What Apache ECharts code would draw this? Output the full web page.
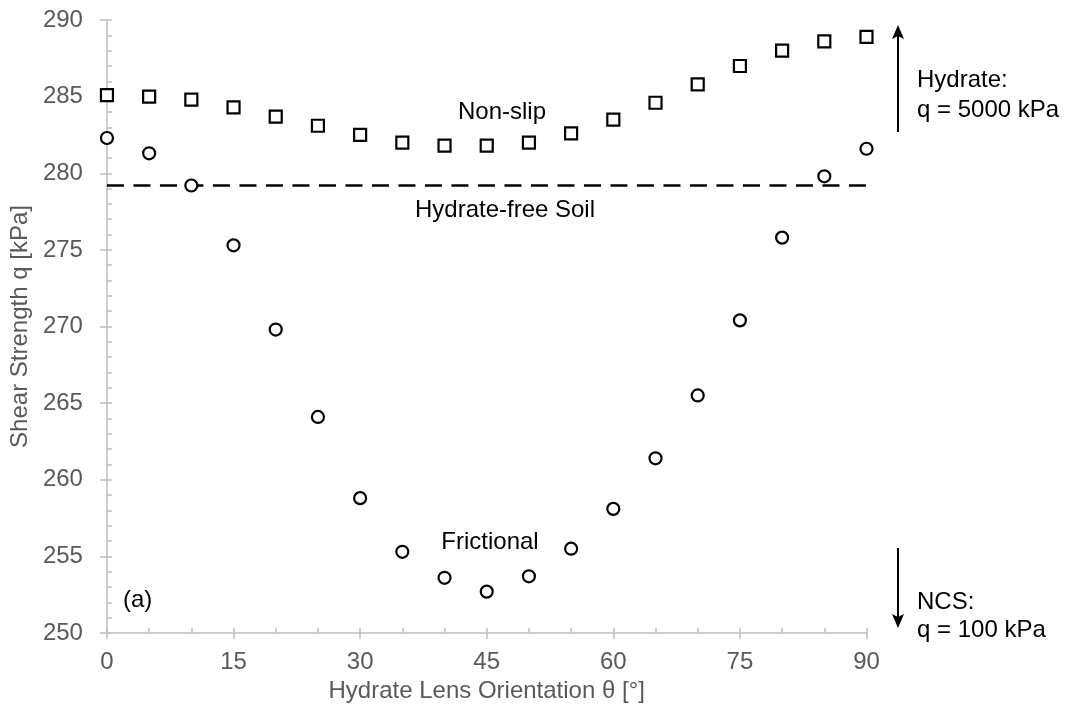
<!DOCTYPE html>
<html>
<head>
<meta charset="utf-8">
<title>Shear strength vs hydrate lens orientation</title>
<script src="https://cdn.jsdelivr.net/npm/echarts@6/dist/echarts.min.js"></script>
<style>
  html, body { margin: 0; padding: 0; background: #fff; }
  #chart { width: 1068px; height: 715px; }
</style>
</head>
<body>
<div id="chart"></div>
<script>
// Lens orientation angles (degrees)
const angles = [0, 5, 10, 15, 20, 25, 30, 35, 40, 45, 50, 55, 60, 65, 70, 75, 80, 85, 90];
// Shear strength q [kPa], non-slip interface
const nonSlip = [285.1, 285.0, 284.8, 284.3, 283.7, 283.1, 282.5, 282.0, 281.8, 281.8,
                 282.0, 282.6, 283.5, 284.6, 285.8, 287.0, 288.0, 288.6, 288.9];
// Shear strength q [kPa], frictional interface
const frictional = [282.3, 281.3, 279.2, 275.3, 269.8, 264.1, 258.8, 255.3, 253.6, 252.7,
                    253.7, 255.5, 258.1, 261.4, 265.5, 270.4, 275.8, 279.8, 281.6];
// Reference strength of hydrate-free soil [kPa]
const hydrateFreeSoil = 279.2;
// Axis tick values
const xTicks = [0, 15, 30, 45, 60, 75, 90];
const yTicks = [250, 255, 260, 265, 270, 275, 280, 285, 290];

const FONT = '"Liberation Sans", Arial, sans-serif';
const GREY_TEXT = '#595959';
const AXIS_GREY = '#bfbfbf';

const chart = echarts.init(document.getElementById('chart'), null, { renderer: 'canvas' });

const xMin = xTicks[0], xMax = xTicks[xTicks.length - 1], xStep = xTicks[1] - xTicks[0];
const yMin = yTicks[0], yMax = yTicks[yTicks.length - 1], yStep = yTicks[1] - yTicks[0];

function txt(text, x, y, align) {
  return {
    type: 'text', x: x, y: y, z: 10,
    style: { text: text, font: '24px ' + FONT, fill: '#000', align: align || 'center', verticalAlign: 'middle' }
  };
}

const option = {
  animation: false,
  backgroundColor: '#fff',
  grid: { left: 105.5, right: 201.5, top: 20, bottom: 82 },
  xAxis: [
    {
      type: 'value', position: 'bottom', min: xMin, max: xMax, interval: xStep,
      name: 'Hydrate Lens Orientation θ [°]', nameLocation: 'middle', nameGap: 45,
      nameTextStyle: { color: GREY_TEXT, fontSize: 24, fontFamily: FONT },
      axisLine: { show: true, onZero: false, lineStyle: { color: AXIS_GREY, width: 1.5 } },
      axisTick: { show: true, inside: false, length: 6, lineStyle: { color: AXIS_GREY, width: 1.5 } },
      axisLabel: { color: GREY_TEXT, fontSize: 24, fontFamily: FONT, margin: 17 },
      splitLine: { show: false }
    },
    {
      // inner tick marks every 5 degrees
      type: 'value', position: 'bottom', min: xMin, max: xMax, interval: 5,
      axisLine: { show: false, onZero: false },
      axisTick: { show: true, inside: true, length: 5, lineStyle: { color: AXIS_GREY, width: 1.5 } },
      axisLabel: { show: false },
      splitLine: { show: false }
    }
  ],
  yAxis: [
    {
      type: 'value', position: 'left', min: yMin, max: yMax, interval: yStep,
      name: 'Shear Strength q [kPa]', nameLocation: 'middle', nameGap: 74,
      nameTextStyle: { color: GREY_TEXT, fontSize: 24, fontFamily: FONT },
      axisLine: { show: true, onZero: false, lineStyle: { color: AXIS_GREY, width: 1.5 } },
      axisTick: { show: true, inside: false, length: 7, lineStyle: { color: AXIS_GREY, width: 1.5 } },
      axisLabel: { color: GREY_TEXT, fontSize: 24, fontFamily: FONT, margin: 24 },
      splitLine: { show: false }
    },
    {
      // inner tick marks every 1 kPa
      type: 'value', position: 'left', min: yMin, max: yMax, interval: 1,
      axisLine: { show: false, onZero: false },
      axisTick: { show: true, inside: true, length: 5, lineStyle: { color: AXIS_GREY, width: 1.5 } },
      axisLabel: { show: false },
      splitLine: { show: false }
    }
  ],
  series: [
    {
      name: 'Hydrate-free Soil', type: 'line', xAxisIndex: 0, yAxisIndex: 0,
      data: [[xMin, hydrateFreeSoil], [xMax, hydrateFreeSoil]],
      symbol: 'none', z: 1,
      lineStyle: { color: '#000', width: 2.3, type: [17, 9.5] }
    },
    {
      name: 'Non-slip', type: 'scatter', xAxisIndex: 0, yAxisIndex: 0,
      data: angles.map((a, i) => [a, nonSlip[i]]),
      symbol: 'rect', symbolSize: 12, z: 3,
      itemStyle: { color: '#fff', borderColor: '#000', borderWidth: 2.2, opacity: 1 }
    },
    {
      name: 'Frictional', type: 'scatter', xAxisIndex: 0, yAxisIndex: 0,
      data: angles.map((a, i) => [a, frictional[i]]),
      symbol: 'circle', symbolSize: 12, z: 3,
      itemStyle: { color: '#fff', borderColor: '#000', borderWidth: 2.2, opacity: 1 }
    }
  ],
  graphic: [
    txt('Non-slip', 502, 112),
    txt('Hydrate-free Soil', 505, 210),
    txt('Frictional', 490, 542),
    txt('(a)', 123, 600, 'left'),
    txt('Hydrate:', 917, 80, 'left'),
    txt('q = 5000 kPa', 917, 110, 'left'),
    txt('NCS:', 917, 602, 'left'),
    txt('q = 100 kPa', 917, 630, 'left'),
    // arrow pointing up (towards hydrate strength)
    { type: 'line', shape: { x1: 898, y1: 132, x2: 898, y2: 34 }, style: { stroke: '#000', lineWidth: 2 } },
    { type: 'polygon', shape: { points: [[898, 25], [904, 39], [898, 36], [892, 39]] }, style: { fill: '#000' } },
    // arrow pointing down (towards NCS strength)
    { type: 'line', shape: { x1: 898, y1: 548, x2: 898, y2: 619 }, style: { stroke: '#000', lineWidth: 2 } },
    { type: 'polygon', shape: { points: [[898, 628], [904, 614], [898, 617], [892, 614]] }, style: { fill: '#000' } }
  ]
};

chart.setOption(option);
</script>
</body>
</html>
